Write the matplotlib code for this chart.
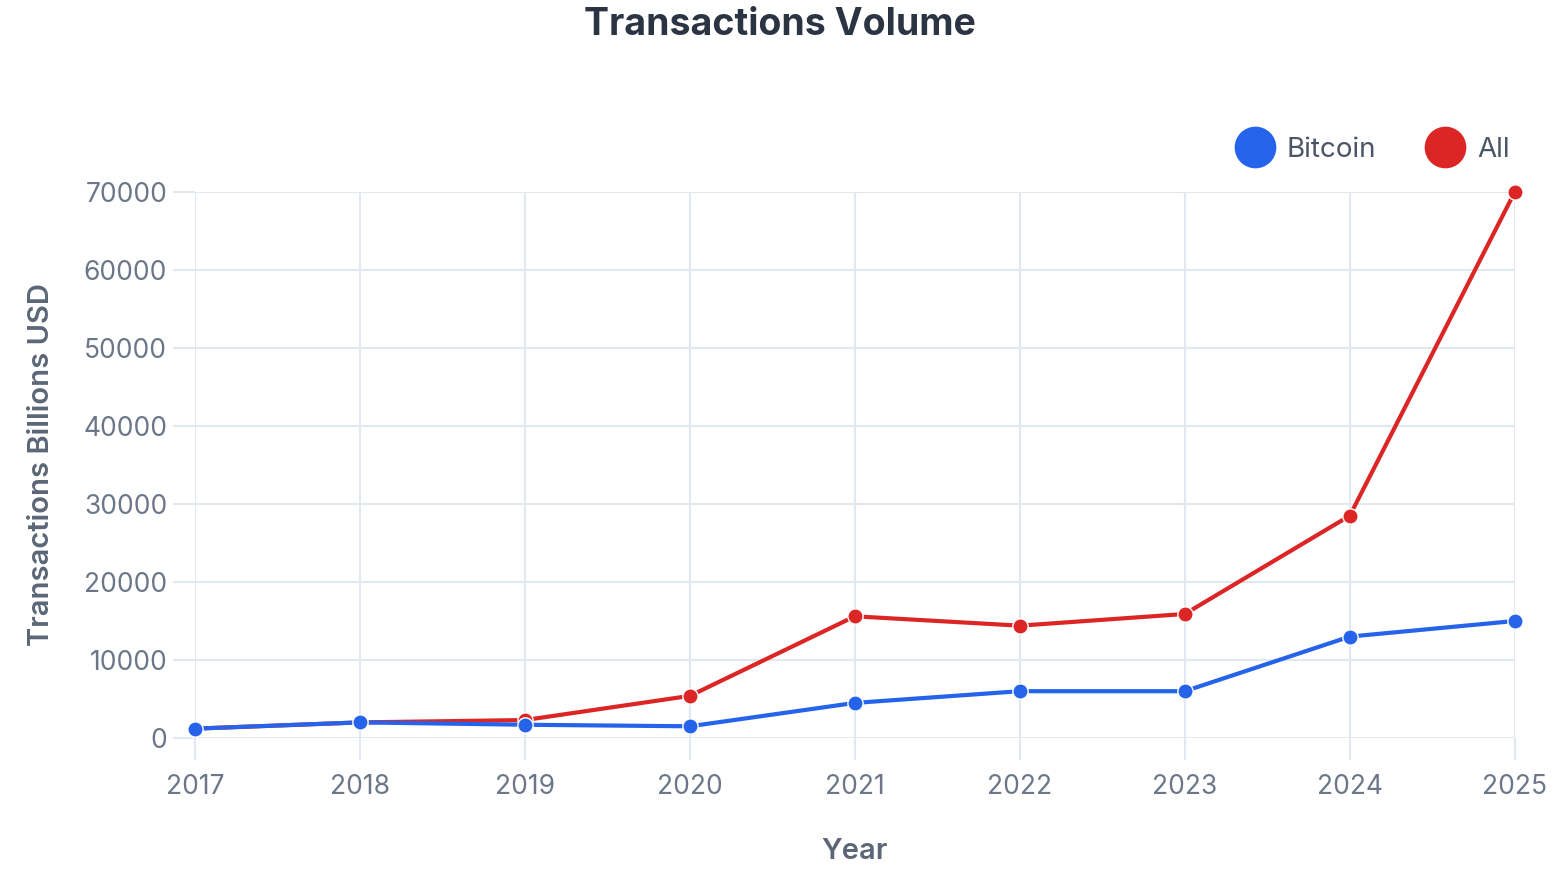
import matplotlib.pyplot as plt
from matplotlib.lines import Line2D

plt.rcParams['font.family'] = ['Inter', 'DejaVu Sans']

years = [2017, 2018, 2019, 2020, 2021, 2022, 2023, 2024, 2025]
bitcoin = [1200, 2000, 1700, 1500, 4500, 6000, 6000, 13000, 15000]
all_chains = [1200, 2000, 2300, 5400, 15600, 14400, 15900, 28500, 70000]
y_ticks = [0, 10000, 20000, 30000, 40000, 50000, 60000, 70000]

blue = '#2563eb'
red = '#dc2626'
grid_col = '#e3e8f0'
tick_col = '#6b7789'

fig = plt.figure(figsize=(15.6, 8.77), dpi=100)
ax = fig.add_axes([0.125, 0.1585, 0.846, 0.6226])

ax.plot(years, all_chains, color=red, lw=3, marker='o', ms=11,
        markeredgecolor='white', markeredgewidth=1, clip_on=False, zorder=3)
ax.plot(years, bitcoin, color=blue, lw=3, marker='o', ms=11,
        markeredgecolor='white', markeredgewidth=1, clip_on=False, zorder=4)

ax.set_xlim(2017, 2025)
ax.set_ylim(0, 70000)
ax.set_xticks(years)
ax.set_yticks(y_ticks)
ax.grid(True, color=grid_col, lw=1.5, zorder=0)
ax.set_axisbelow(True)
for s in ax.spines.values():
    s.set_visible(False)
ax.tick_params(axis='both', length=16, width=1.5, color=grid_col,
               labelcolor=tick_col, labelsize=19)
ax.tick_params(axis='x', pad=10)
ax.tick_params(axis='y', pad=4)

ax.set_xlabel('Year', fontsize=21, color='#5b6676', fontweight='semibold', labelpad=27)
ax.set_ylabel('Transactions Billions USD', fontsize=21, color='#5b6676',
              fontweight='semibold', labelpad=20)

fig.text(0.5, 0.972, 'Transactions Volume', ha='center', va='center',
         fontsize=27, fontweight='bold', color='#2a3443')

handles = [
    Line2D([], [], ls='none', marker='o', ms=29, color=blue, label='Bitcoin'),
    Line2D([], [], ls='none', marker='o', ms=29, color=red, label='All'),
]
fig.legend(handles=handles, loc='center right', bbox_to_anchor=(0.984, 0.829),
           ncol=2, frameon=False, fontsize=20, labelcolor='#4a5566',
           handletextpad=0.45, columnspacing=1.8, handlelength=1.4)

fig.savefig('out.png', dpi=100, facecolor='white')
